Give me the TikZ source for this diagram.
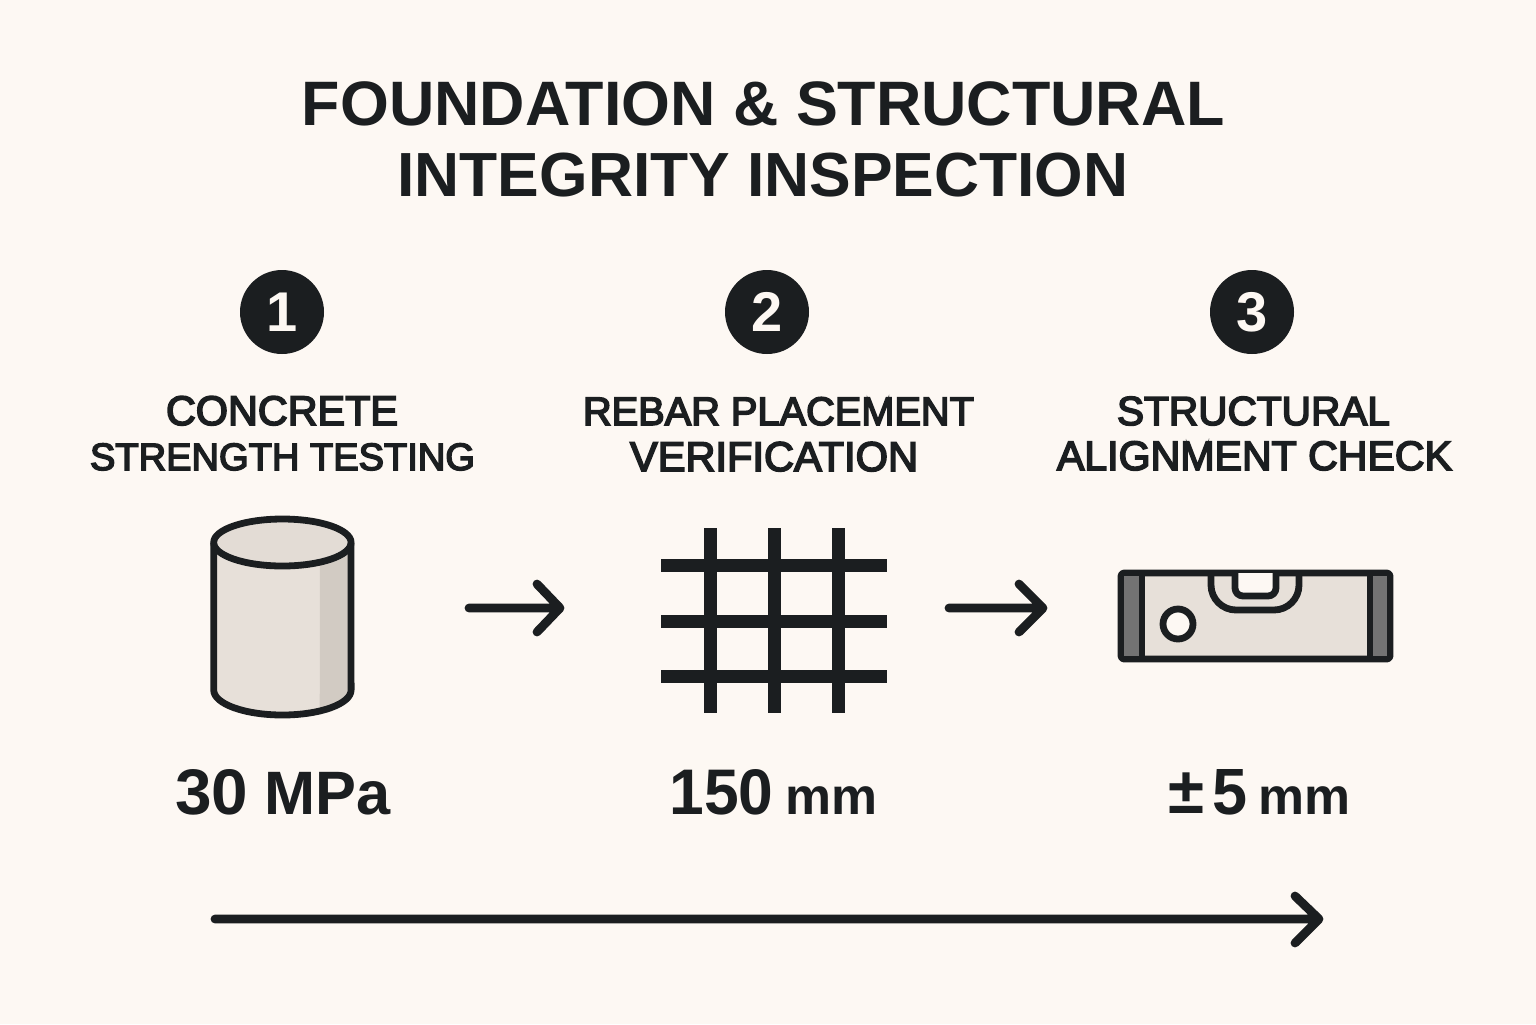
\documentclass[tikz,border=0pt]{standalone}
\usepackage{fontspec}
\usepackage{graphicx}
\setmainfont{Liberation Sans}
\newfontfamily\semi[FakeBold=4]{Liberation Sans}
\definecolor{ink}{HTML}{1B1E20}
\definecolor{paper}{HTML}{FDF8F3}
\definecolor{cylbody}{HTML}{E7E0D9}
\definecolor{cyltop}{HTML}{E3DCD5}
\definecolor{cylside}{HTML}{D2CBC3}
\definecolor{capg}{HTML}{737373}
\newcommand\fitw[2]{\resizebox{\dimexpr#1pt/2\relax}{!}{#2}}
\newcommand\fitwh[3]{\resizebox{\dimexpr#1pt/2\relax}{\dimexpr#2pt/2\relax}{#3}}
\tikzset{
 x=0.5pt,y=-0.5pt,
 tline/.style={inner sep=0pt,text=ink,font=\bfseries,anchor=base},
 hline/.style={inner sep=0pt,text=ink,font=\semi,anchor=base},
 vline/.style={inner sep=0pt,text=ink,font=\bfseries,anchor=base west},
 flow/.style={draw=ink,line width=4.4pt,line cap=round,line join=round},
 bar/.style={draw=ink,line width=6.5pt},
 icon/.style={draw=ink,line width=3.4pt,line join=round},
 badge/.style={circle,fill=ink,minimum size=42pt,inner sep=0pt,text=paper,font=\bfseries\fontsize{28}{28}\selectfont},
}
\begin{document}
\begin{tikzpicture}
\useasboundingbox (0,0) rectangle (1536,1024);
\fill[paper] (0,0) rectangle (1536,1024);
% title
\node[tline] (t1) at (763.5,125) {\fitw{923}{FOUNDATION \& STRUCTURAL}};
\node[tline] (t2) at (763,196) {\fitw{731}{INTEGRITY INSPECTION}};
% badges
\node[badge] (b1) at (282,312) {1};
\node[badge] (b2) at (767,312) {2};
\node[badge] (b3) at (1252,312) {3};
% headings
\node[hline] (h1a) at (282,425) {\fitw{232}{CONCRETE}};
\node[hline] (h1b) at (282.5,470) {\fitw{385}{STRENGTH TESTING}};
\node[hline] (h2a) at (778.5,425) {\fitw{391}{REBAR PLACEMENT}};
\node[hline] (h2b) at (774,471) {\fitw{288}{VERIFICATION}};
\node[hline] (h3a) at (1253.5,425) {\fitw{273}{STRUCTURAL}};
\node[hline] (h3b) at (1254.5,470) {\fitw{395}{ALIGNMENT CHECK}};
% cylinder
\fill[cylbody] (213.7,542) -- (213.7,690) arc[x radius=68.7,y radius=25,start angle=180,end angle=0] -- (351,542) -- cycle;
\fill[cylside] (320,540) -- (351,540) -- (351,690) arc[x radius=68.7,y radius=25,start angle=0,end angle=57] -- cycle;
\fill[cyltop] (282.4,542.5) ellipse[x radius=68.7,y radius=23.5];
\draw[icon] (213.7,542.5) -- (213.7,690) arc[x radius=68.7,y radius=25,start angle=180,end angle=0] -- (351,542.5);
\draw[icon] (282.4,542.5) ellipse[x radius=68.7,y radius=23.5];
% arrows
\coordinate (a1s) at (469,608); \coordinate (a1e) at (560,608);
\coordinate (a1u) at (537,584); \coordinate (a1d) at (537,632);
\draw[flow] (a1s) -- (a1e) (a1u) -- (a1e) -- (a1d);
\coordinate (a2s) at (949,608); \coordinate (a2e) at (1043,608);
\coordinate (a2u) at (1019,584); \coordinate (a2d) at (1019,632);
\draw[flow] (a2s) -- (a2e) (a2u) -- (a2e) -- (a2d);
% grid
\foreach \x in {710,774,838} \draw[bar] (\x,528) -- (\x,713);
\foreach \y in {565,621,676} \draw[bar] (661,\y) -- (887,\y);
% level
\draw[icon,fill=cylbody,rounded corners=1.5pt] (1121,573) rectangle (1390,659);
\fill[capg] (1124,576) rectangle (1139,656);
\fill[capg] (1373,576) rectangle (1387,656);
\draw[icon] (1142,573) -- (1142,659);
\draw[icon] (1370,573) -- (1370,659);
\draw[icon] (1211,573) -- (1211,585) arc[radius=25,start angle=180,end angle=90] -- (1274,610) arc[radius=25,start angle=90,end angle=0] -- (1299,573);
\draw[icon,fill=paper] (1235,573) -- (1235,588) arc[radius=8,start angle=180,end angle=90] -- (1268,596) arc[radius=8,start angle=90,end angle=0] -- (1276,573);
\draw[icon,fill=paper] (1178,624) circle[radius=15];
% values
\node[vline] (v1a) at (175,814) {\fitwh{73}{45}{30}};
\node[vline] (v1b) at (264,814) {\fitw{126}{MPa}};
\node[vline] (v2a) at (669,814) {\fitwh{104}{45}{150}};
\node[vline] (v2b) at (785,814) {\fitw{92}{mm}};
\node[vline] (v3a) at (1168,813) {\fitw{36}{±}};
\node[vline] (v3c) at (1212,814) {\fitwh{35}{45}{5}};
\node[vline] (v3b) at (1258,814) {\fitw{92}{mm}};
% long arrow
\coordinate (ls) at (215,919); \coordinate (le) at (1319,919);
\coordinate (lu) at (1295,896); \coordinate (ld) at (1295,943);
\draw[flow] (ls) -- (le) (lu) -- (le) -- (ld);
\end{tikzpicture}
\end{document}
